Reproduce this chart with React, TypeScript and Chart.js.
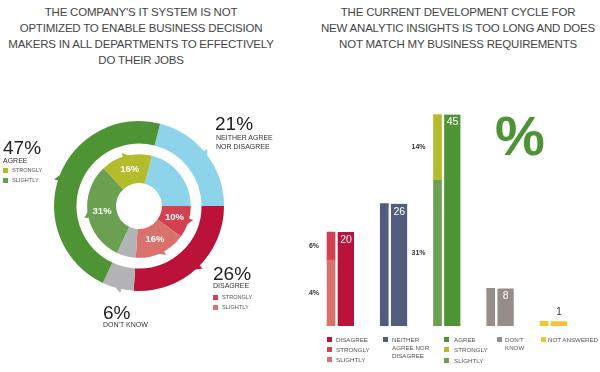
import React, { useEffect, useRef } from 'react';
import { Chart, registerables } from 'chart.js';

Chart.register(...registerables);

const FONT = '"Liberation Sans", Arial, Helvetica, sans-serif';

// ---------- Donut data ----------
const donutOuterLabels = ['Neither agree nor disagree', 'Disagree', "Don't know", 'Agree'];
const donutOuterValues = [21, 26, 6, 47];
const donutOuterColors = ['#8dd3ea', '#ba1239', '#b3b3b5', '#4f9434'];

const donutInnerLabels = ['Neither', 'Disagree strongly', 'Disagree slightly', "Don't know", 'Agree slightly', 'Agree strongly'];
const donutInnerValues = [21, 10, 16, 6, 31, 16];
const donutInnerColors = ['#8dd3ea', '#d3404f', '#d9726c', '#b3b3b5', '#6aa050', '#b3bc2b'];
const donutInnerShowLabel = [false, true, true, false, true, true];

// ---------- Bar data ----------
const barCategories = ['DISAGREE', 'NEITHER AGREE NOR DISAGREE', 'AGREE', "DON'T KNOW", 'NOT ANSWERED'];
const barSlightly = [14, 26, 31, 8, 1];
const barStrongly = [6, 0, 14, 0, 0];
const barTotals = [20, 26, 45, 8, 1];
const barSplitLabeled = [true, false, true, false, false];
const barSlightlyColors = ['#d9726c', '#525d7d', '#6aa050', '#968c88', '#f6c232'];
const barStronglyColors = ['#d3404f', '#525d7d', '#b3bc2b', '#968c88', '#f6c232'];
const barTotalColors = ['#ba1239', '#525d7d', '#4f9434', '#968c88', '#f6c232'];

const donutPlugin = {
  id: 'donutDecor',
  afterDatasetsDraw(chart: any) {
    const ctx = chart.ctx;
    ctx.save();
    const drawArrow = (arc: any, color: string) => {
      const p = arc.getProps(['x', 'y', 'startAngle', 'endAngle', 'outerRadius'], true);
      const a = (p.startAngle + p.endAngle) / 2;
      const r = p.outerRadius;
      const ux = Math.cos(a), uy = Math.sin(a);
      const tx = -uy, ty = ux;
      const bx = p.x + ux * (r - 1), by = p.y + uy * (r - 1);
      ctx.beginPath();
      ctx.moveTo(bx + tx * 3.5, by + ty * 3.5);
      ctx.lineTo(bx - tx * 3.5, by - ty * 3.5);
      ctx.lineTo(bx + ux * 5 - tx * 3.5, by + uy * 5 - ty * 3.5);
      ctx.closePath();
      ctx.fillStyle = color;
      ctx.fill();
    };
    chart.getDatasetMeta(0).data.forEach((arc: any, i: number) => drawArrow(arc, donutOuterColors[i]));
    chart.getDatasetMeta(2).data.forEach((arc: any, i: number) => {
      if (donutInnerShowLabel[i]) drawArrow(arc, donutInnerColors[i]);
    });
    ctx.fillStyle = '#ffffff';
    ctx.font = `bold 9.5px ${FONT}`;
    ctx.textAlign = 'center';
    ctx.textBaseline = 'middle';
    chart.getDatasetMeta(2).data.forEach((arc: any, i: number) => {
      if (!donutInnerShowLabel[i]) return;
      const pt = arc.tooltipPosition(true);
      ctx.fillText(donutInnerValues[i] + '%', pt.x, pt.y);
    });
    ctx.restore();
  },
};

const barPlugin = {
  id: 'barLabels',
  afterDatasetsDraw(chart: any) {
    const ctx = chart.ctx;
    const area = chart.chartArea;
    ctx.save();
    ctx.textAlign = 'center';
    ctx.textBaseline = 'middle';
    chart.getDatasetMeta(2).data.forEach((bar: any, i: number) => {
      const p = bar.getProps(['x', 'y', 'base'], true);
      const cx = p.x + 1.5;
      if (p.base - p.y > 20) {
        ctx.font = `10.5px ${FONT}`;
        ctx.fillStyle = '#ffffff';
        ctx.fillText(String(barTotals[i]), cx, p.y + 8);
      } else {
        ctx.font = `10px ${FONT}`;
        ctx.fillStyle = '#3d3850';
        ctx.fillText(String(barTotals[i]), cx, p.y - 9);
      }
    });
    ctx.beginPath();
    ctx.rect(area.left, 0, area.right - area.left, chart.height);
    ctx.clip();
    ctx.font = `bold 7px ${FONT}`;
    ctx.fillStyle = '#333333';
    ctx.textAlign = 'right';
    [0, 1].forEach((di) => {
      const vals = di === 0 ? barSlightly : barStrongly;
      chart.getDatasetMeta(di).data.forEach((bar: any, i: number) => {
        if (!barSplitLabeled[i]) return;
        const p = bar.getProps(['x', 'y', 'base', 'width'], true);
        ctx.fillText(vals[i] + '%', p.x - p.width / 2 - 8, (p.y + p.base) / 2);
      });
    });
    ctx.restore();
  },
};

function DonutChart() {
  const ref = useRef<HTMLCanvasElement>(null);
  useEffect(() => {
    if (!ref.current) return;
    const chart = new Chart(ref.current, {
      type: 'doughnut',
      data: {
        labels: donutInnerLabels,
        datasets: [
          { data: donutOuterValues, backgroundColor: donutOuterColors, borderWidth: 0, weight: 21 } as any,
          { data: [1], backgroundColor: 'rgba(0,0,0,0)', borderWidth: 0, weight: 10 } as any,
          { data: donutInnerValues, backgroundColor: donutInnerColors, borderWidth: 0, weight: 27 } as any,
        ],
      },
      options: {
        animation: false,
        responsive: false,
        rotation: 14.4,
        cutout: 27,
        radius: 85,
        layout: { padding: 0 },
        plugins: { legend: { display: false }, tooltip: { enabled: false } },
      } as any,
      plugins: [donutPlugin],
    });
    return () => chart.destroy();
  }, []);
  return <canvas ref={ref} width={200} height={200} style={{ position: 'absolute', left: 39, top: 106 }} />;
}

function BarChart() {
  const ref = useRef<HTMLCanvasElement>(null);
  useEffect(() => {
    if (!ref.current) return;
    const chart = new Chart(ref.current, {
      type: 'bar',
      data: {
        labels: barCategories,
        datasets: [
          { label: 'Slightly', data: barSlightly, backgroundColor: barSlightlyColors, stack: 'split', barThickness: 8, borderWidth: 0 } as any,
          { label: 'Strongly', data: barStrongly, backgroundColor: barStronglyColors, stack: 'split', barThickness: 8, borderWidth: 0 } as any,
          {
            label: 'Total', data: barTotals, backgroundColor: barTotalColors, stack: 'total', barThickness: 19,
            borderWidth: { left: 3, top: 0, right: 0, bottom: 0 }, borderColor: '#ffffff', borderSkipped: 'start',
          } as any,
        ],
      },
      options: {
        animation: false,
        responsive: false,
        layout: { padding: { left: 8.4, right: 25.4, top: 11, bottom: 46 } },
        scales: {
          x: { type: 'category', display: false, offset: true },
          y: { display: false, min: 0, max: 50, stacked: true },
        },
        plugins: { legend: { display: false }, tooltip: { enabled: false } },
      } as any,
      plugins: [barPlugin],
    });
    return () => chart.destroy();
  }, []);
  return <canvas ref={ref} width={300} height={292} style={{ position: 'absolute', left: 300, top: 80 }} />;
}

// Text helper: (x, capTop)
function T({ x, y, size, children, color = '#222', weight = 400 as any, align = 'left' as any, ls = 0 }: any) {
  return (
    <div
      style={{
        position: 'absolute', left: x, top: y - 0.13 * size, fontSize: size, lineHeight: 1,
        fontFamily: FONT, color, fontWeight: weight, whiteSpace: 'nowrap', letterSpacing: ls, textAlign: align,
      }}
    >
      {children}
    </div>
  );
}

function Sq({ x, y, color, s = 5 }: any) {
  return <div style={{ position: 'absolute', left: x, top: y, width: s, height: s, background: color }} />;
}

const titleStyle: any = {
  position: 'absolute', top: 3.6, fontFamily: FONT, fontSize: 11.5, lineHeight: '16.3px', color: '#454545',
  textAlign: 'center', letterSpacing: -0.2, whiteSpace: 'nowrap',
};

export default function App() {
  const small = 7;
  const tiny = 5.6;
  const leg = 6.2;
  return (
    <div style={{ position: 'absolute', left: 0, top: 0, width: 600, height: 372, background: '#fff', overflow: 'hidden' }}>
      <div style={{ ...titleStyle, left: 0, width: 282 }}>
        THE COMPANY'S IT SYSTEM IS NOT<br />OPTIMIZED TO ENABLE BUSINESS DECISION<br />MAKERS IN ALL DEPARTMENTS TO EFFECTIVELY<br />DO THEIR JOBS
      </div>
      <div style={{ ...titleStyle, left: 316, width: 284 }}>
        THE CURRENT DEVELOPMENT CYCLE FOR<br />NEW ANALYTIC INSIGHTS IS TOO LONG AND DOES<br />NOT MATCH MY BUSINESS REQUIREMENTS
      </div>

      <DonutChart />
      <BarChart />

      {/* Donut annotations */}
      <T x={3} y={140} size={19}>47%</T>
      <T x={3} y={158} size={small} color="#333">AGREE</T>
      <Sq x={3} y={168} color="#b3bc2b" />
      <T x={12} y={169} size={tiny} color="#555">STRONGLY</T>
      <Sq x={3} y={178} color="#6aa050" />
      <T x={12} y={179} size={tiny} color="#555">SLIGHTLY</T>

      <T x={215} y={116} size={19}>21%</T>
      <T x={216} y={135} size={small} color="#333">NEITHER AGREE</T>
      <T x={216} y={143.5} size={small} color="#333">NOR DISAGREE</T>

      <T x={213} y={266} size={19}>26%</T>
      <T x={213} y={283} size={small} color="#333">DISAGREE</T>
      <Sq x={213} y={295} color="#d3404f" />
      <T x={222} y={296} size={tiny} color="#555">STRONGLY</T>
      <Sq x={213} y={305} color="#d9726c" />
      <T x={222} y={306} size={tiny} color="#555">SLIGHTLY</T>

      <T x={103} y={305} size={19}>6%</T>
      <T x={103} y={322} size={small} color="#333">DON'T KNOW</T>

      {/* Big percent sign */}
      <T x={495} y={115} size={56} weight={700} color="#4f9434">%</T>

      {/* Bar legend */}
      <Sq x={327} y={337} color="#ba1239" />
      <T x={336} y={337.5} size={leg} color="#555">DISAGREE</T>
      <Sq x={327} y={347} color="#d3404f" />
      <T x={336} y={347.5} size={leg} color="#555">STRONGLY</T>
      <Sq x={327} y={357} color="#d9726c" />
      <T x={336} y={358} size={leg} color="#555">SLIGHTLY</T>

      <Sq x={383} y={337} color="#525d7d" />
      <T x={392} y={337.5} size={leg} color="#555">NEITHER</T>
      <T x={392} y={345.5} size={leg} color="#555">AGREE NOR</T>
      <T x={392} y={353.5} size={leg} color="#555">DISAGREE</T>

      <Sq x={444} y={337} color="#4f9434" />
      <T x={454} y={337.5} size={leg} color="#555">AGREE</T>
      <Sq x={444} y={347} color="#b3bc2b" />
      <T x={454} y={347.5} size={leg} color="#555">STRONGLY</T>
      <Sq x={444} y={358} color="#6aa050" />
      <T x={454} y={358.5} size={leg} color="#555">SLIGHTLY</T>

      <Sq x={497} y={337} color="#968c88" />
      <T x={505} y={337.5} size={leg} color="#555">DON'T</T>
      <T x={505} y={345.5} size={leg} color="#555">KNOW</T>

      <Sq x={541} y={337} color="#f6c232" />
      <T x={548} y={337.5} size={leg} color="#555">NOT ANSWERED</T>
    </div>
  );
}
